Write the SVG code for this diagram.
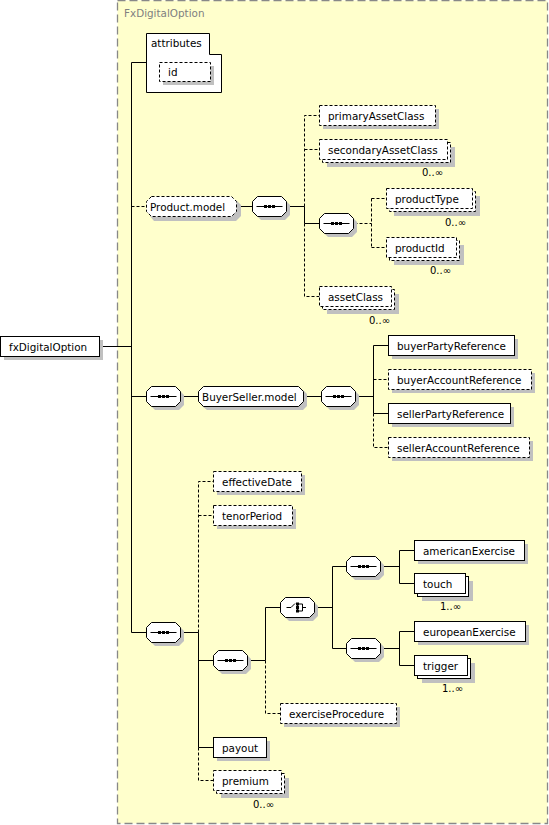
<svg xmlns="http://www.w3.org/2000/svg" xmlns:xlink="http://www.w3.org/1999/xlink" width="549" height="825" viewBox="0 0 549 825">
<style>
.n{fill:#fff;stroke:#000;stroke-width:1}
.d{stroke-dasharray:3,2}
.sh{fill:#c0c0c0;stroke:none}
.c{fill:none;stroke:#000;stroke-width:1}
.k{fill:#000;stroke:none}
text{font-family:"DejaVu Sans",Verdana,sans-serif;font-size:10.4px;fill:#000}
.t{fill:#808080}
.m{font-size:10px}
</style>
<defs>
<path id="oct" d="M5,0 H29 L34,5 V15 L29,20 H5 L0,15 V5 Z"/>
<g id="seqi"><path d="M4,10 H30" stroke="#000" fill="none"/><rect x="11.5" y="8.5" width="3" height="3"/><rect x="15.5" y="8.5" width="3" height="3"/><rect x="19.5" y="8.5" width="3" height="3"/></g>
</defs>
<rect x="117.5" y="0.5" width="430" height="823" fill="#ffffcc" stroke="#888" stroke-width="1.3" stroke-dasharray="8,4"/>
<text class="t" x="124" y="17">FxDigitalOption</text>

<g id="connectors">
<path class="c" d="M131.5,62.5 V632.5 M131.5,62.5 H146.5 M100,346.5 H131.5"/>
<path class="c d" d="M131.5,206.5 H146.5"/>
<path class="c" d="M236.5,206.5 H252.5 M286.5,206.5 H304.5 V223.5 H319.5"/>
<path class="c d" d="M304.5,206.5 V115.5 H319.5 M304.5,149.5 H319.5 M304.5,223.5 V296.5 H319.5"/>
<path class="c d" d="M354.5,223.5 H371.5 M371.5,198.5 V247.5 M371.5,198.5 H386.5 M371.5,247.5 H386.5"/>
<path class="c" d="M131.5,396.5 H146.5 M180.5,396.5 H198.5 M303.5,396.5 H321.5 M355.5,396.5 H373.5 M373.5,345.5 V413.5 M373.5,345.5 H388.5 M373.5,413.5 H388.5"/>
<path class="c d" d="M373.5,379.5 H388.5 M373.5,413.5 V447.5 H388.5"/>
<path class="c" d="M131.5,632.5 H146.5 M180.5,632.5 H198.5 V747.5 H213.5 M198.5,660.5 H213.5 M247.5,660.5 H265.5 V607.5 H280.5"/>
<path class="c d" d="M198.5,632.5 V481.5 H213.5 M198.5,515.5 H213.5 M198.5,747.5 V780.5 H213.5 M265.5,660.5 V713.5 H280.5"/>
<path class="c" d="M314.5,607.5 H332.5 M332.5,566.5 V648.5 M332.5,566.5 H346.5 M332.5,648.5 H346.5"/>
<path class="c" d="M380.5,566.5 H399.5 M399.5,550.5 V583.5 M399.5,550.5 H414.5 M399.5,583.5 H414.5"/>
<path class="c" d="M380.5,648.5 H399.5 M399.5,631.5 V665.5 M399.5,631.5 H414.5 M399.5,665.5 H414.5"/>
</g>

<g id="attributes">
<path class="n" d="M146.5,33.5 H209.5 V54.5 H221.5 V92.5 H146.5 Z"/>
<text x="151" y="47">attributes</text>
</g>
<g id="id">
<rect class="sh" x="163" y="66" width="51" height="19"/>
<rect class="n d" x="159.5" y="62.5" width="51" height="19"/>
<text x="168" y="76">id</text>
</g>

<g id="fxDigitalOption">
<rect class="sh" x="4" y="340" width="99" height="20"/>
<rect class="n" x="0.5" y="336.5" width="99" height="20"/>
<text x="9" y="351">fxDigitalOption</text>
</g>

<g id="Product.model">
<path class="sh" d="M154,200 H236 L241,205 V216 L236,221 H154 L150,216 V205 Z"/>
<path class="n d" d="M151.5,196.5 H231.5 L236.5,201.5 V211.5 L231.5,216.5 H151.5 L146.5,211.5 V201.5 Z"/>
<text x="150" y="211">Product.model</text>
</g>
<g id="seq1">
<use href="#oct" x="256" y="200" class="sh"/>
<use href="#oct" x="252.5" y="196.5" class="n"/>
<use href="#seqi" x="252.5" y="196.5"/>
</g>
<g id="primaryAssetClass">
<rect class="sh" x="323" y="109" width="116" height="20"/>
<rect class="n d" x="319.5" y="105.5" width="116" height="20"/>
<text x="328" y="120">primaryAssetClass</text>
</g>
<g id="secondaryAssetClass">
<rect class="sh" x="327" y="147" width="128" height="20"/>
<rect class="n d" x="322.5" y="142.5" width="128" height="20"/>
<rect class="n d" x="319.5" y="139.5" width="128" height="20"/>
<text x="328" y="154">secondaryAssetClass</text>
<text class="m" x="443" y="176" text-anchor="end">0..∞</text>
</g>
<g id="seq2">
<use href="#oct" x="323" y="217" class="sh"/>
<use href="#oct" x="319.5" y="213.5" class="n"/>
<use href="#seqi" x="319.5" y="213.5"/>
</g>
<g id="productType">
<rect class="sh" x="394" y="196" width="86" height="20"/>
<rect class="n d" x="389.5" y="191.5" width="86" height="20"/>
<rect class="n d" x="386.5" y="188.5" width="86" height="20"/>
<text x="395" y="203">productType</text>
<text class="m" x="466" y="226" text-anchor="end">0..∞</text>
</g>
<g id="productId">
<rect class="sh" x="394" y="245" width="70" height="20"/>
<rect class="n d" x="389.5" y="240.5" width="70" height="20"/>
<rect class="n d" x="386.5" y="237.5" width="70" height="20"/>
<text x="395" y="252">productId</text>
<text class="m" x="451" y="274" text-anchor="end">0..∞</text>
</g>
<g id="assetClass">
<rect class="sh" x="327" y="294" width="72" height="20"/>
<rect class="n d" x="322.5" y="289.5" width="72" height="20"/>
<rect class="n d" x="319.5" y="286.5" width="72" height="20"/>
<text x="328" y="301">assetClass</text>
<text class="m" x="390" y="324" text-anchor="end">0..∞</text>
</g>

<g id="seq3">
<use href="#oct" x="150" y="390" class="sh"/>
<use href="#oct" x="146.5" y="386.5" class="n"/>
<use href="#seqi" x="146.5" y="386.5"/>
</g>
<g id="BuyerSeller.model">
<path class="sh" d="M207,390 H303 L307,394 V406 L303,410 H207 L202,406 V394 Z"/>
<path class="n" d="M203.5,386.5 H298.5 L303.5,391.5 V401.5 L298.5,406.5 H203.5 L198.5,401.5 V391.5 Z"/>
<text x="202" y="401">BuyerSeller.model</text>
</g>
<g id="seq4">
<use href="#oct" x="325" y="390" class="sh"/>
<use href="#oct" x="321.5" y="386.5" class="n"/>
<use href="#seqi" x="321.5" y="386.5"/>
</g>
<g id="buyerPartyReference">
<rect class="sh" x="392" y="339" width="126" height="20"/>
<rect class="n" x="388.5" y="335.5" width="126" height="20"/>
<text x="397" y="350">buyerPartyReference</text>
</g>
<g id="buyerAccountReference">
<rect class="sh" x="392" y="373" width="143" height="20"/>
<rect class="n d" x="388.5" y="369.5" width="143" height="20"/>
<text x="397" y="384">buyerAccountReference</text>
</g>
<g id="sellerPartyReference">
<rect class="sh" x="392" y="407" width="122" height="20"/>
<rect class="n" x="388.5" y="403.5" width="122" height="20"/>
<text x="397" y="418">sellerPartyReference</text>
</g>
<g id="sellerAccountReference">
<rect class="sh" x="392" y="441" width="141" height="20"/>
<rect class="n d" x="388.5" y="437.5" width="141" height="20"/>
<text x="397" y="452">sellerAccountReference</text>
</g>

<g id="seq5">
<use href="#oct" x="150" y="626" class="sh"/>
<use href="#oct" x="146.5" y="622.5" class="n"/>
<use href="#seqi" x="146.5" y="622.5"/>
</g>
<g id="effectiveDate">
<rect class="sh" x="217" y="475" width="88" height="20"/>
<rect class="n d" x="213.5" y="471.5" width="88" height="20"/>
<text x="222" y="486">effectiveDate</text>
</g>
<g id="tenorPeriod">
<rect class="sh" x="217" y="509" width="79" height="20"/>
<rect class="n d" x="213.5" y="505.5" width="79" height="20"/>
<text x="222" y="520">tenorPeriod</text>
</g>
<g id="seq6">
<use href="#oct" x="217" y="654" class="sh"/>
<use href="#oct" x="213.5" y="650.5" class="n"/>
<use href="#seqi" x="213.5" y="650.5"/>
</g>
<g id="choice">
<use href="#oct" x="284" y="601" class="sh"/>
<use href="#oct" x="280.5" y="597.5" class="n"/>
<path class="c" d="M286.5,607.5 H291 L295,603.5 M297.5,603 V612 M299,604 H302.5 V611 H299 M302.5,607.5 H306"/>
<rect class="k" x="296" y="602.5" width="3" height="3"/>
<rect class="k" x="296" y="606" width="3" height="3"/>
<rect class="k" x="296" y="609.5" width="3" height="3"/>
</g>
<g id="seq7">
<use href="#oct" x="350" y="560" class="sh"/>
<use href="#oct" x="346.5" y="556.5" class="n"/>
<use href="#seqi" x="346.5" y="556.5"/>
</g>
<g id="seq8">
<use href="#oct" x="350" y="642" class="sh"/>
<use href="#oct" x="346.5" y="638.5" class="n"/>
<use href="#seqi" x="346.5" y="638.5"/>
</g>
<g id="americanExercise">
<rect class="sh" x="418" y="544" width="110" height="20"/>
<rect class="n" x="414.5" y="540.5" width="110" height="20"/>
<text x="423" y="555">americanExercise</text>
</g>
<g id="touch">
<rect class="sh" x="422" y="581" width="51" height="20"/>
<rect class="n" x="417.5" y="576.5" width="51" height="20"/>
<rect class="n" x="414.5" y="573.5" width="51" height="20"/>
<text x="423" y="588">touch</text>
<text class="m" x="461" y="610" text-anchor="end">1..∞</text>
</g>
<g id="europeanExercise">
<rect class="sh" x="418" y="625" width="111" height="20"/>
<rect class="n" x="414.5" y="621.5" width="111" height="20"/>
<text x="423" y="636">europeanExercise</text>
</g>
<g id="trigger">
<rect class="sh" x="422" y="663" width="53" height="20"/>
<rect class="n" x="417.5" y="658.5" width="53" height="20"/>
<rect class="n" x="414.5" y="655.5" width="53" height="20"/>
<text x="423" y="670">trigger</text>
<text class="m" x="463" y="692" text-anchor="end">1..∞</text>
</g>
<g id="exerciseProcedure">
<rect class="sh" x="284" y="707" width="116" height="20"/>
<rect class="n d" x="280.5" y="703.5" width="116" height="20"/>
<text x="289" y="718">exerciseProcedure</text>
</g>
<g id="payout">
<rect class="sh" x="217" y="741" width="53" height="20"/>
<rect class="n" x="213.5" y="737.5" width="53" height="20"/>
<text x="222" y="752">payout</text>
</g>
<g id="premium">
<rect class="sh" x="221" y="778" width="68" height="20"/>
<rect class="n d" x="216.5" y="773.5" width="68" height="20"/>
<rect class="n d" x="213.5" y="770.5" width="68" height="20"/>
<text x="222" y="785">premium</text>
<text class="m" x="274" y="808" text-anchor="end">0..∞</text>
</g>
</svg>
